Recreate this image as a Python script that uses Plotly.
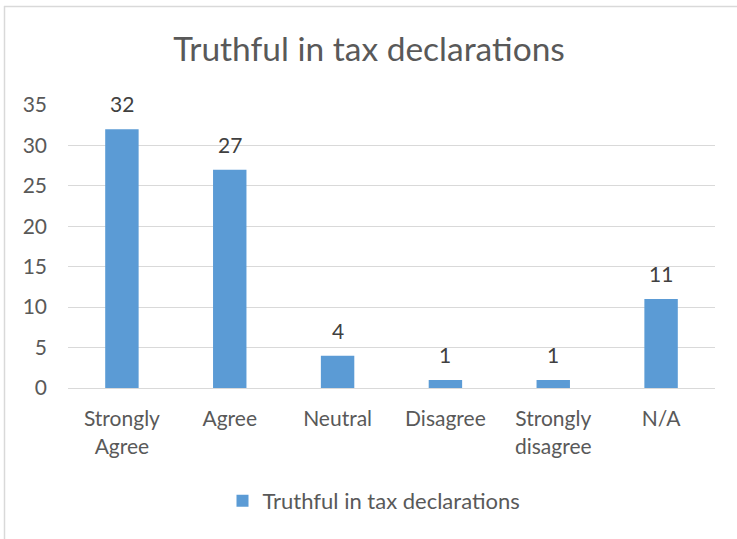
import plotly.graph_objects as go

categories = ["Strongly<br>Agree", "Agree", "Neutral", "Disagree", "Strongly<br>disagree", "N/A"]
values = [32, 27, 4, 1, 1, 11]
series_name = "Truthful in tax declarations"
y_ticks = [0, 5, 10, 15, 20, 25, 30, 35]

FONT = "Lato"
W, H = 737, 539
L, R, T, B = 68, 22, 105, 151
pw, ph = W - L - R, H - T - B

fig = go.Figure()
fig.add_trace(go.Bar(
    x=categories, y=values, name=series_name,
    marker=dict(color="#5B9BD5", line=dict(width=0)),
    showlegend=True,
))

for c, v in zip(categories, values):
    fig.add_annotation(x=c, y=v, text=str(v), showarrow=False,
                       yanchor="bottom", yshift=11,
                       font=dict(family=FONT, size=21, color="#404040"))

def px2x(px):
    return (px - L) / pw

def px2y(py):
    return (H - B - py) / ph

fig.update_layout(
    width=W, height=H,
    margin=dict(l=L, r=R, t=T, b=B),
    paper_bgcolor="white", plot_bgcolor="white",
    bargap=0.69,
    title=dict(text="Truthful in tax declarations", x=369 / W, xanchor="center",
               y=1 - 49 / H, yanchor="middle",
               font=dict(family=FONT, size=33.5, color="#595959")),
    xaxis=dict(showgrid=False, showline=True, linecolor="#D9D9D9", linewidth=1,
               ticks="", ticklabelstandoff=12,
               tickfont=dict(family=FONT, size=21, color="#595959")),
    yaxis=dict(range=[0, 35], tickvals=y_ticks, showgrid=True, gridcolor="#D9D9D9",
               gridwidth=1, zeroline=False, ticks="", showline=False, ticklabelstandoff=20,
               tickfont=dict(family=FONT, size=21, color="#595959")),
    legend=dict(orientation="h", x=px2x(374), xanchor="center", y=px2y(501), yanchor="middle",
                font=dict(family=FONT, size=22, color="#595959"), itemwidth=30),
    shapes=[
        dict(type="line", xref="paper", yref="paper", x0=px2x(4.5), x1=px2x(4.5),
             y0=px2y(6), y1=px2y(545), line=dict(color="#D9D9D9", width=1.5)),
        dict(type="line", xref="paper", yref="paper", x0=px2x(4), x1=px2x(745),
             y0=px2y(6.5), y1=px2y(6.5), line=dict(color="#D9D9D9", width=1.5)),
    ],
)

fig.write_html("out.html")
